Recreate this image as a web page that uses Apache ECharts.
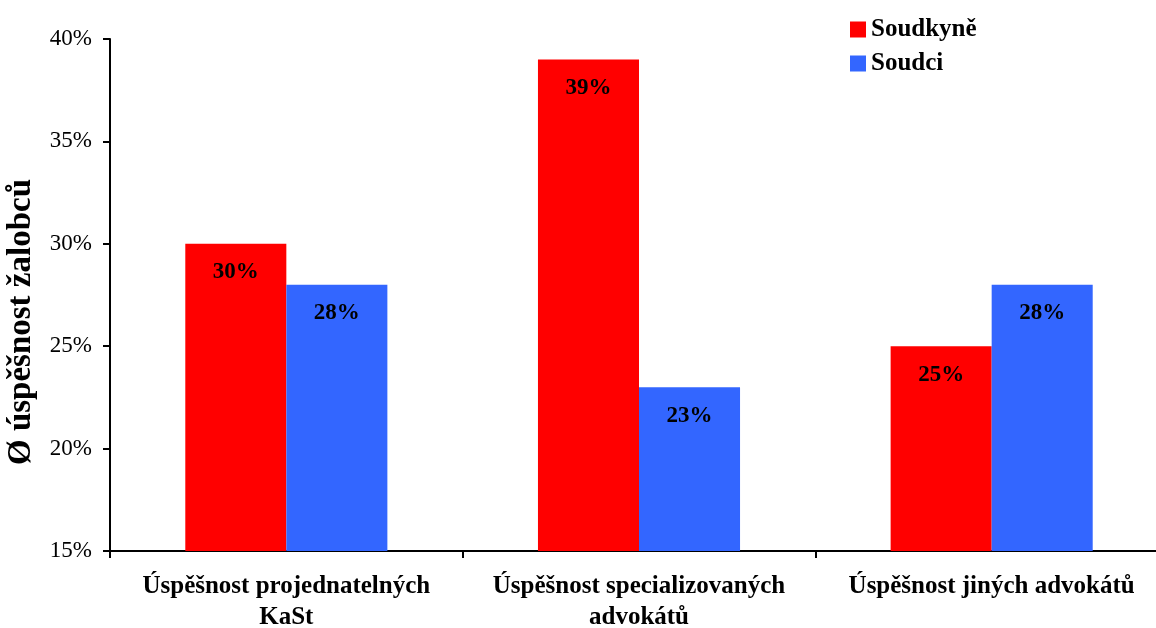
<!DOCTYPE html>
<html><head><meta charset="utf-8">
<script src="https://cdn.jsdelivr.net/npm/echarts@6/dist/echarts.min.js"></script>
<style>html,body{margin:0;padding:0;background:#fff}#c{width:1156px;height:628px}</style>
</head><body><div id="c"></div>
<script>
const categories = ['Úspěšnost projednatelných\nKaSt', 'Úspěšnost specializovaných\nadvokátů', 'Úspěšnost jiných advokátů'];
const soudkyne = [30, 39, 25];
const soudci = [28, 23, 28];
const seriesNames = ['Soudkyně', 'Soudci'];
const yTicks = [15, 20, 25, 30, 35, 40];
const FONT = '"Liberation Serif", serif';
const chart = echarts.init(document.getElementById('c'));
const lbl = {show: true, position: 'insideTop', distance: 17, color: '#000', fontFamily: FONT, fontWeight: 'bold', fontSize: 23, formatter: p => p.value + '%'};
chart.setOption({
  animation: false,
  textStyle: {fontFamily: FONT},
  grid: {left: 110, width: 1058, top: 39, bottom: 77, containLabel: false, outerBoundsMode: 'none'},
  legend: {
    left: 845, top: 12, orient: 'vertical', itemWidth: 16, itemHeight: 16, itemGap: 9, icon: 'rect',
    textStyle: {fontFamily: FONT, fontWeight: 'bold', fontSize: 25, color: '#000'},
    data: seriesNames
  },
  xAxis: {
    type: 'category', data: categories,
    axisLine: {lineStyle: {color: '#000', width: 2}},
    axisTick: {show: true, length: 7, lineStyle: {color: '#000', width: 2}},
    axisLabel: {color: '#000', fontFamily: FONT, fontWeight: 'bold', fontSize: 25, lineHeight: 31, margin: 20, interval: 0}
  },
  yAxis: {
    type: 'value', min: yTicks[0], max: yTicks[yTicks.length - 1], interval: 5,
    name: 'Ø úspěšnost žalobců', nameLocation: 'middle', nameGap: 72,
    nameTextStyle: {color: '#000', fontFamily: FONT, fontWeight: 'bold', fontSize: 33, padding: [0, 54, 0, 0]},
    axisLine: {show: true, lineStyle: {color: '#000', width: 2}},
    axisTick: {show: true, length: 7, lineStyle: {color: '#000', width: 2}},
    axisLabel: {color: '#000', fontFamily: FONT, fontSize: 23, margin: 18, formatter: v => v + '%'},
    splitLine: {show: false}
  },
  series: [
    {name: seriesNames[0], type: 'bar', data: soudkyne, itemStyle: {color: '#FF0000'}, barGap: '0%', barCategoryGap: '42.7%', label: lbl},
    {name: seriesNames[1], type: 'bar', data: soudci, itemStyle: {color: '#3366FF'}, barGap: '0%', barCategoryGap: '42.7%', label: lbl}
  ]
});
</script></body></html>
